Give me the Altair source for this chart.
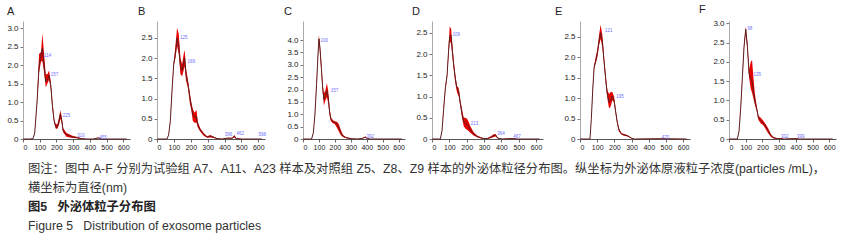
import altair as alt
import pandas as pd

FONT = "Liberation Sans"
CJK = "Liberation Sans, Noto Sans CJK SC"

x_ticks = [0, 100, 200, 300, 400, 500, 600]

# ---------------- Panel A ----------------
a_size = [0, 40, 60, 70, 84, 96, 108, 116, 126, 136, 146, 156, 166, 176, 186, 196, 206, 216, 224, 232, 240, 260, 280, 300, 320, 350, 380, 420, 440, 450, 470, 520, 620]
a_mean = [0, 0, 0.01, 0.16, 1.0, 1.95, 2.3, 2.45, 2.0, 1.55, 1.6, 1.72, 1.45, 0.9, 0.5, 0.32, 0.32, 0.5, 0.68, 0.5, 0.22, 0.12, 0.08, 0.05, 0.04, 0.01, 0, 0, 0.02, 0.03, 0, 0, 0]
a_lo = [0, 0, 0.01, 0.14, 0.95, 1.8, 2.1, 2.1, 1.8, 1.4, 1.5, 1.6, 1.35, 0.8, 0.45, 0.28, 0.28, 0.4, 0.55, 0.42, 0.18, 0.06, 0.04, 0.03, 0.02, 0.0, 0, 0, 0.01, 0.02, 0, 0, 0]
a_hi = [0, 0, 0.01, 0.18, 1.05, 2.3, 2.35, 2.86, 2.3, 1.75, 1.75, 1.85, 1.55, 1.0, 0.55, 0.4, 0.4, 0.6, 0.78, 0.58, 0.3, 0.16, 0.12, 0.08, 0.06, 0.02, 0, 0, 0.03, 0.04, 0, 0, 0]
a_peak_x = [120, 160, 232, 318, 450]
a_peak_y = [2.25, 1.72, 0.62, 0.09, 0.04]
a_peak_t = ["114", "157", "225", "310", "455"]
a_yticks = [0, 0.5, 1.0, 1.5, 2.0, 2.5, 3.0]

# ---------------- Panel B ----------------
b_size = [0, 59, 69, 79, 89, 99, 109, 119, 129, 139, 149, 158, 164, 172, 184, 194, 204, 212, 222, 234, 242, 257, 277, 297, 317, 331, 356, 386, 416, 446, 459, 469, 505, 560, 598, 620]
b_mean = [0, 0, 0.1, 0.45, 1.2, 1.85, 2.1, 2.5, 2.3, 1.8, 1.7, 1.9, 2.0, 1.6, 1.35, 1.05, 0.8, 0.6, 0.55, 0.55, 0.35, 0.22, 0.12, 0.05, 0.07, 0.05, 0.01, 0, 0.02, 0.02, 0.07, 0.01, 0, 0, 0, 0]
b_lo = [0, 0, 0.09, 0.42, 1.15, 1.8, 2.0, 2.3, 2.1, 1.6, 1.55, 1.7, 1.8, 1.45, 1.25, 0.9, 0.7, 0.45, 0.4, 0.4, 0.28, 0.18, 0.08, 0.03, 0.04, 0.03, 0, 0, 0.01, 0.01, 0.04, 0, 0, 0, 0, 0]
b_hi = [0, 0, 0.11, 0.48, 1.25, 1.9, 2.3, 2.75, 2.6, 2.0, 1.85, 2.1, 2.2, 1.75, 1.45, 1.15, 0.9, 0.75, 0.65, 0.72, 0.42, 0.26, 0.15, 0.07, 0.1, 0.07, 0.02, 0, 0.03, 0.03, 0.1, 0.02, 0, 0, 0, 0]
b_peak_x = [130, 175, 396, 465, 596]
b_peak_y = [2.5, 1.9, 0.1, 0.12, 0.09]
b_peak_t = ["125", "169", "396", "462", "598"]
b_yticks = [0, 0.5, 1.0, 1.5, 2.0, 2.5]

# ---------------- Panel C ----------------
c_size = [0, 54, 65, 75, 85, 94, 100, 106, 115, 123, 131, 140, 150, 158, 167, 175, 188, 200, 213, 225, 238, 250, 267, 288, 308, 340, 371, 385, 392, 404, 423, 620]
c_mean = [0, 0, 0.25, 1.0, 2.2, 3.4, 4.05, 3.7, 2.9, 2.1, 1.6, 1.75, 1.95, 1.7, 1.1, 0.8, 0.7, 0.66, 0.6, 0.45, 0.25, 0.12, 0.06, 0.03, 0.01, 0, 0.02, 0.06, 0.08, 0.02, 0, 0]
c_lo = [0, 0, 0.23, 0.95, 2.1, 3.3, 3.9, 3.55, 2.7, 1.95, 1.35, 1.55, 1.7, 1.45, 0.95, 0.72, 0.64, 0.6, 0.45, 0.3, 0.15, 0.08, 0.04, 0.01, 0, 0, 0.01, 0.04, 0.05, 0.01, 0, 0]
c_hi = [0, 0, 0.27, 1.05, 2.3, 3.5, 4.2, 3.85, 3.1, 2.25, 1.85, 1.95, 2.25, 1.95, 1.25, 0.88, 0.76, 0.72, 0.7, 0.6, 0.35, 0.17, 0.09, 0.05, 0.02, 0, 0.03, 0.08, 0.1, 0.03, 0, 0]
c_peak_x = [104, 168, 392]
c_peak_y = [3.97, 1.96, 0.1]
c_peak_t = ["100", "157", "392"]
c_yticks = [0, 0.5, 1.0, 1.5, 2.0, 2.5, 3.0, 3.5, 4.0]

# ---------------- Panel D ----------------
d_size = [0, 48, 58, 67, 77, 87, 96, 102, 110, 117, 125, 135, 144, 154, 163, 173, 183, 192, 202, 212, 221, 240, 260, 279, 298, 317, 337, 356, 367, 379, 404, 452, 471, 490, 620]
d_mean = [0, 0, 0.2, 0.7, 1.2, 1.5, 2.1, 2.42, 2.45, 2.1, 1.75, 1.4, 1.2, 1.12, 0.85, 0.6, 0.4, 0.38, 0.35, 0.3, 0.22, 0.12, 0.06, 0.03, 0.01, 0.01, 0.04, 0.08, 0.09, 0.02, 0, 0.01, 0.01, 0, 0]
d_lo = [0, 0, 0.18, 0.65, 1.15, 1.45, 2.0, 2.3, 2.25, 1.95, 1.65, 1.3, 1.1, 1.0, 0.78, 0.5, 0.3, 0.25, 0.22, 0.18, 0.15, 0.08, 0.04, 0.02, 0, 0, 0.02, 0.05, 0.06, 0.01, 0, 0, 0, 0, 0]
d_hi = [0, 0, 0.22, 0.75, 1.25, 1.55, 2.2, 2.65, 2.6, 2.25, 1.85, 1.5, 1.25, 1.2, 0.92, 0.7, 0.5, 0.5, 0.48, 0.4, 0.3, 0.16, 0.08, 0.05, 0.02, 0.02, 0.06, 0.11, 0.12, 0.03, 0, 0.02, 0.02, 0, 0]
d_peak_x = [113, 218, 370, 462]
d_peak_y = [2.46, 0.36, 0.11, 0.05]
d_peak_t = ["109", "213", "364", "467"]
d_yticks = [0, 0.5, 1.0, 1.5, 2.0, 2.5]

# ---------------- Panel E ----------------
e_size = [0, 58, 66, 74, 82, 91, 101, 111, 120, 130, 140, 150, 159, 169, 179, 188, 198, 208, 217, 227, 241, 256, 276, 285, 299, 315, 470, 620]
e_mean = [0, 0, 0.5, 1.2, 1.75, 1.9, 2.1, 2.4, 2.6, 2.4, 1.9, 1.45, 1.1, 0.9, 0.95, 1.05, 0.95, 0.65, 0.4, 0.22, 0.13, 0.1, 0.08, 0.06, 0.02, 0, 0.005, 0]
e_lo = [0, 0, 0.48, 1.15, 1.7, 1.85, 2.0, 2.3, 2.45, 2.25, 1.8, 1.35, 1.0, 0.75, 0.8, 0.95, 0.9, 0.6, 0.35, 0.18, 0.11, 0.08, 0.06, 0.04, 0.01, 0, 0, 0]
e_hi = [0, 0, 0.52, 1.25, 1.8, 2.0, 2.2, 2.55, 2.8, 2.55, 2.0, 1.55, 1.2, 1.1, 1.15, 1.15, 1.05, 0.72, 0.45, 0.26, 0.15, 0.12, 0.1, 0.07, 0.03, 0, 0.01, 0]
e_peak_x = [140, 205, 470]
e_peak_y = [2.65, 1.03, 0.03]
e_peak_t = ["121", "195", "470"]
e_yticks = [0, 0.5, 1.0, 1.5, 2.0, 2.5]

# ---------------- Panel F ----------------
f_size = [0, 50, 60, 70, 80, 90, 100, 110, 120, 130, 138, 146, 154, 166, 176, 190, 204, 220, 234, 250, 266, 290, 310, 330, 400, 420, 620]
f_mean = [0, 0, 0.2, 0.8, 1.6, 2.4, 2.85, 2.4, 1.7, 1.55, 1.5, 1.25, 1.0, 0.78, 0.55, 0.48, 0.42, 0.32, 0.22, 0.1, 0.03, 0.01, 0.01, 0, 0.01, 0, 0]
f_lo = [0, 0, 0.18, 0.75, 1.55, 2.35, 2.75, 2.3, 1.6, 1.3, 1.2, 1.05, 0.9, 0.72, 0.5, 0.4, 0.36, 0.25, 0.15, 0.06, 0.01, 0, 0, 0, 0, 0, 0]
f_hi = [0, 0, 0.22, 0.85, 1.65, 2.45, 2.92, 2.5, 1.8, 2.0, 2.05, 1.6, 1.2, 0.85, 0.6, 0.55, 0.48, 0.38, 0.28, 0.13, 0.05, 0.02, 0.02, 0, 0.02, 0, 0]
f_peak_x = [103, 140, 305, 400]
f_peak_y = [2.85, 1.67, 0.05, 0.06]
f_peak_t = ["98", "135", "302", "399"]
f_yticks = [0, 0.5, 1.0, 1.5, 2.0, 2.5, 3.0]

# ---------------- Caption ----------------
NB = "\u00a0"
caption_lines = [
    "图注：图中 A-F 分别为试验组 A7、A11、A23 样本及对照组 Z5、Z8、Z9 样本的外泌体粒径分布图。纵坐标为外泌体原液粒子浓度(particles /mL)，",
    "横坐标为直径(nm)",
    "图5" + NB * 3 + "外泌体粒子分布图",
    "Figure 5" + NB * 3 + "Distribution of exosome particles",
]
caption_bold = [False, False, True, False]

PANEL_H = 118


def panel(letter, size, mean, lo, hi, px, py, pt, yticks, ymax, width, extent, dx):
    assert len(size) == len(mean) == len(lo) == len(hi), letter
    df = pd.DataFrame({"size": size, "mean": mean, "lo": lo, "hi": hi})
    pk = pd.DataFrame({"size": px, "val": py, "lab": pt})
    xscale = alt.Scale(domain=[0, 640], nice=False)
    yscale = alt.Scale(domain=[0, ymax], nice=False)
    xaxis = alt.Axis(values=x_ticks, title=None, labelFontSize=7, labelColor="#222",
                     tickSize=3, tickColor="#666", domainColor="#555", labelPadding=1,
                     grid=False, labelOverlap=False)
    yaxis = alt.Axis(values=yticks, title=None, labelFontSize=8, labelColor="#222",
                     tickSize=3, tickColor="#777", domainColor="#aaa", labelPadding=2,
                     grid=False, minExtent=extent, maxExtent=extent, labelOverlap=False,
                     labelExpr="datum.value == 0 ? '0' : format(datum.value, '.1f')")
    xenc = alt.X("size:Q", scale=xscale, axis=xaxis)
    band = alt.Chart(df).mark_area(color="#e60000", opacity=1).encode(
        x=xenc,
        y=alt.Y("lo:Q", scale=yscale, axis=yaxis),
        y2="hi:Q",
    )
    line = alt.Chart(df).mark_line(color="#5e1f1f", strokeWidth=1).encode(
        x=xenc, y=alt.Y("mean:Q", scale=yscale, axis=yaxis)
    )
    labels = alt.Chart(pk).mark_text(align="left", baseline="middle", fontSize=4.5,
                                     color="#6f6fff", dx=1).encode(
        x=xenc, y=alt.Y("val:Q", scale=yscale, axis=yaxis), text="lab:N"
    )
    return alt.layer(band, line, labels).properties(
        width=width, height=PANEL_H,
        title=alt.TitleParams(letter, anchor="start", frame="group", dx=dx, fontSize=11,
                              fontWeight="normal", color="#222", offset=4),
    )


pA = panel("A", a_size, a_mean, a_lo, a_hi, a_peak_x, a_peak_y, a_peak_t, a_yticks, 3.19, 107, 23, -16)
pB = panel("B", b_size, b_mean, b_lo, b_hi, b_peak_x, b_peak_y, b_peak_t, b_yticks, 2.92, 108, 27, -19)
pC = panel("C", c_size, c_mean, c_lo, c_hi, c_peak_x, c_peak_y, c_peak_t, c_yticks, 4.77, 102, 36, -19)
pD = panel("D", d_size, d_mean, d_lo, d_hi, d_peak_x, d_peak_y, d_peak_t, d_yticks, 2.78, 111, 27, -20)
pE = panel("E", e_size, e_mean, e_lo, e_hi, e_peak_x, e_peak_y, e_peak_t, e_yticks, 2.89, 110, 37, -25)
pF = panel("F", f_size, f_mean, f_lo, f_hi, f_peak_x, f_peak_y, f_peak_t, f_yticks, 3.06, 107, 39, -30)

row = alt.hconcat(pA, pB, pC, pD, pE, pF, spacing=0)

cap_df = pd.DataFrame({
    "line": list(range(len(caption_lines))),
    "text": caption_lines,
    "bold": caption_bold,
})
cap_y = alt.Y("line:O", axis=None, scale=alt.Scale(domain=[0, 1, 2, 3], padding=0.5))
cap_normal = alt.Chart(cap_df).transform_filter("!datum.bold").mark_text(
    align="left", baseline="middle", font=CJK, fontSize=12.3, color="#333"
).encode(x=alt.value(5), y=cap_y, text="text:N")
cap_bold = alt.Chart(cap_df).transform_filter("datum.bold").mark_text(
    align="left", baseline="middle", font=CJK, fontSize=12.3, color="#222", fontWeight="bold"
).encode(x=alt.value(5), y=cap_y, text="text:N")
caption = alt.layer(cap_normal, cap_bold).properties(width=830, height=75)

chart = alt.vconcat(row, caption, spacing=10).properties(
    padding={"left": 0, "top": 4, "right": 0, "bottom": 0}
).configure(background="white", font=FONT).configure_view(stroke="transparent", strokeWidth=0)

chart.save("out.html", embed_options={"renderer": "svg", "actions": False})
